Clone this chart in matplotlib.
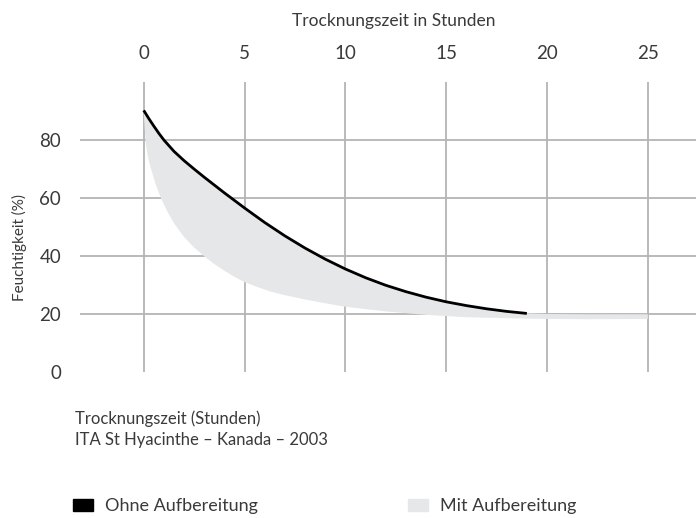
import matplotlib
matplotlib.use("Agg")
import matplotlib.pyplot as plt
from matplotlib.patches import Rectangle

plt.rcParams['font.family'] = ['Lato', 'DejaVu Sans']
plt.rcParams['font.weight'] = 'normal'

# ---- data ----
hours_ohne = [0, 0.25, 0.5, 0.75, 1, 1.5, 2, 2.5, 3, 4, 5, 6, 7, 8, 9, 10, 11, 12, 13, 14,
              15, 16, 17, 18, 19]
feucht_ohne = [90.2, 87.4, 84.8, 82.3, 80.0, 76.1, 72.9, 70.0, 67.2, 61.8, 56.6, 51.6, 47.0,
               42.8, 39.0, 35.6, 32.6, 30.0, 27.8, 25.9, 24.3, 23.0, 21.9, 21.0, 20.3]

# grey band "Mit Aufbereitung": upper edge continues after 19 h
band_top_hours_ext = [20, 22, 25]
band_top_ext = [20.1, 20.0, 20.0]
hours_mit = [0, 0.04, 0.1, 0.2, 0.33, 0.6, 0.86, 1.2, 1.5, 2, 2.5, 3, 3.5, 4, 4.5, 5, 5.6,
             6.3, 7, 8, 9, 10, 12, 14, 16, 19, 22, 25]
feucht_mit = [90.2, 85, 79, 74.5, 70.8, 64.6, 59.9, 55.0, 51.4, 46.6, 43.0, 40.0, 37.3, 35.0,
              32.9, 31.1, 29.5, 27.8, 26.6, 25.1, 23.8, 22.6, 21.0, 19.8, 19.0, 18.5, 18.3, 18.4]

x_ticks = [0, 5, 10, 15, 20, 25]
y_ticks = [0, 20, 40, 60, 80]

top_label = "Trocknungszeit in Stunden"
y_label = "Feuchtigkeit (%)"
note_lines = ["Trocknungszeit (Stunden)", "ITA St Hyacinthe – Kanada – 2003"]
legend_labels = ["Ohne Aufbereitung", "Mit Aufbereitung"]

TXT = "#3a3a3a"
GRID = "#b4b4b4"
FILL = "#e6e7e8"

W, H = 696, 518
fig = plt.figure(figsize=(W / 100, H / 100), dpi=100)
ax = fig.add_axes([80 / W, 1 - 372.4 / H, (W - 80) / W, 290.5 / H])

ax.set_xlim(-3.16, 27.39)
ax.set_ylim(0, 100)
for s in ax.spines.values():
    s.set_visible(False)

ax.xaxis.tick_top()
ax.set_xticks(x_ticks)
ax.set_yticks(y_ticks)
ax.tick_params(axis='x', length=0, pad=14, labelsize=13.5, labelcolor=TXT)
ax.tick_params(axis='y', length=0, pad=13.5, labelsize=13.5, labelcolor=TXT)

# grid
for xv in x_ticks:
    ax.axvline(xv, color=GRID, lw=1.3, zorder=1)
for yv in y_ticks[1:]:
    ax.axhline(yv, color=GRID, lw=1.3, zorder=1)

# grey band
poly_x = hours_ohne + band_top_hours_ext + hours_mit[::-1]
poly_y = feucht_ohne + band_top_ext + feucht_mit[::-1]
ax.fill(poly_x, poly_y, color=FILL, lw=0, zorder=2)

# black line
ax.plot(hours_ohne, feucht_ohne, color='black', lw=2.0, zorder=3, solid_capstyle='butt',
        solid_joinstyle='round')

# texts
fig.text(394 / W, 1 - 26 / H, top_label, ha='center', va='baseline', fontsize=12.5, color=TXT)
fig.text(19 / W, 1 - 248 / H, y_label, ha='center', va='center', rotation=90,
         fontsize=11, color=TXT)
fig.text(75 / W, 1 - 424 / H, note_lines[0], ha='left', va='baseline', fontsize=12, color=TXT)
fig.text(75 / W, 1 - 445 / H, note_lines[1], ha='left', va='baseline', fontsize=12, color=TXT)

# legend
legend_colors = ['black', FILL]
legend_rect_x = [73, 408]
legend_text_x = [105, 440]
for lab, col, rx, tx in zip(legend_labels, legend_colors, legend_rect_x, legend_text_x):
    fig.patches.append(Rectangle((rx / W, 1 - 511 / H), 20 / W, 12 / H, color=col,
                                 transform=fig.transFigure, figure=fig))
    fig.text(tx / W, 1 - 511 / H, lab, ha='left', va='baseline', fontsize=13, color=TXT)

fig.savefig("out.png", dpi=100)
